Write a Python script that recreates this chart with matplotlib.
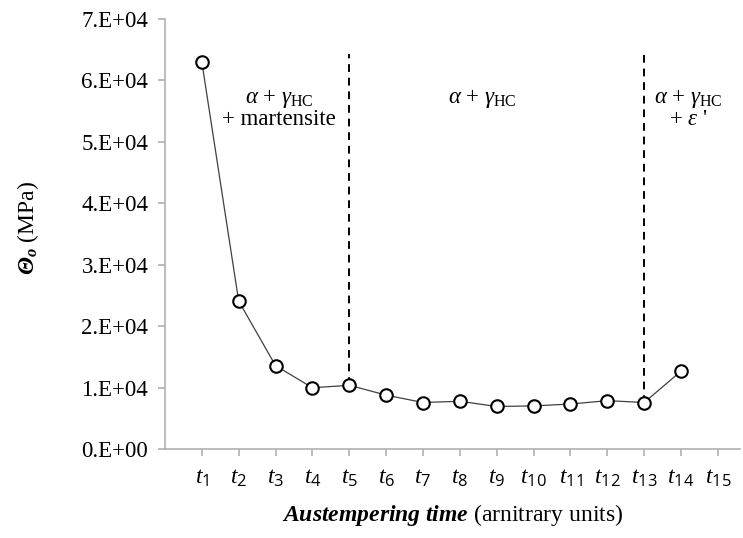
import matplotlib
matplotlib.use("Agg")
import matplotlib.pyplot as plt

plt.rcParams['font.family'] = ['Liberation Serif', 'DejaVu Serif']
plt.rcParams['mathtext.fontset'] = 'custom'
plt.rcParams['mathtext.rm'] = 'Liberation Serif'
plt.rcParams['mathtext.it'] = 'Liberation Serif:italic'
plt.rcParams['mathtext.bf'] = 'Liberation Serif:italic:bold'
plt.rcParams['mathtext.sf'] = 'Open Sans'

# data
time_idx = [1, 2, 3, 4, 5, 6, 7, 8, 9, 10, 11, 12, 13, 14]
theta_o = [63000, 24100, 13600, 10000, 10400, 8800, 7600, 7800,
           6950, 7050, 7350, 7900, 7600, 12700]
x_ticks = list(range(1, 16))
x_labels = [r'$t_{\mathsf{%d}}$' % i for i in x_ticks]
y_ticks = [0, 10000, 20000, 30000, 40000, 50000, 60000, 70000]
y_labels = ['0.E+00', '1.E+04', '2.E+04', '3.E+04', '4.E+04', '5.E+04', '6.E+04', '7.E+04']
boundaries = [5, 13]

fig = plt.figure(figsize=(7.43, 5.38), dpi=100)
ax = fig.add_axes([0.222, 0.165, 0.774, 0.800])

ax.plot(time_idx, theta_o, color='#404040', linewidth=0.9,
        marker='o', markersize=9, markerfacecolor='white',
        markeredgecolor='black', markeredgewidth=1.5, zorder=3)

# phase boundaries, from the data point up
for b in boundaries:
    ax.vlines(b, theta_o[time_idx.index(b)], 64300, colors='black',
              linestyles=(0, (4, 3)), linewidth=1.4, zorder=2)

phase = r'$\alpha$ + $\gamma_{\mathrm{HC}}$'
ax.text(3.1, 57000, phase, ha='center', va='center', fontsize=16.5)
ax.text(3.1, 53600, '+ martensite', ha='center', va='center', fontsize=16.5)
ax.text(8.6, 57000, phase, ha='center', va='center', fontsize=16.5)
ax.text(14.2, 57000, phase, ha='center', va='center', fontsize=16.5)
ax.text(14.2, 53600, r"+ $\varepsilon$ '", ha='center', va='center', fontsize=16.5)

ax.set_xlim(0, 15.6)
ax.set_ylim(0, 70000)
ax.set_xticks(x_ticks)
ax.set_xticklabels(x_labels, fontsize=17)
ax.set_yticks(y_ticks)
ax.set_yticklabels(y_labels, fontsize=16.5)

for side in ['top', 'right']:
    ax.spines[side].set_visible(False)
for side in ['left', 'bottom']:
    ax.spines[side].set_color('#b0b0b0')
    ax.spines[side].set_linewidth(1.2)
ax.tick_params(axis='both', direction='out', color='#b0b0b0', length=5, width=1.2)
ax.tick_params(axis='x', pad=8)
ax.tick_params(axis='y', pad=7)

ax.set_xlabel(r'$\mathbf{Austempering\ time}$ (arnitrary units)', fontsize=17, labelpad=10)
ax.set_ylabel(r'$\mathbf{\Theta_o}$ (MPa)', fontsize=17)
ax.yaxis.set_label_coords(-0.215, 0.515)

fig.savefig('out.png', dpi=100)
